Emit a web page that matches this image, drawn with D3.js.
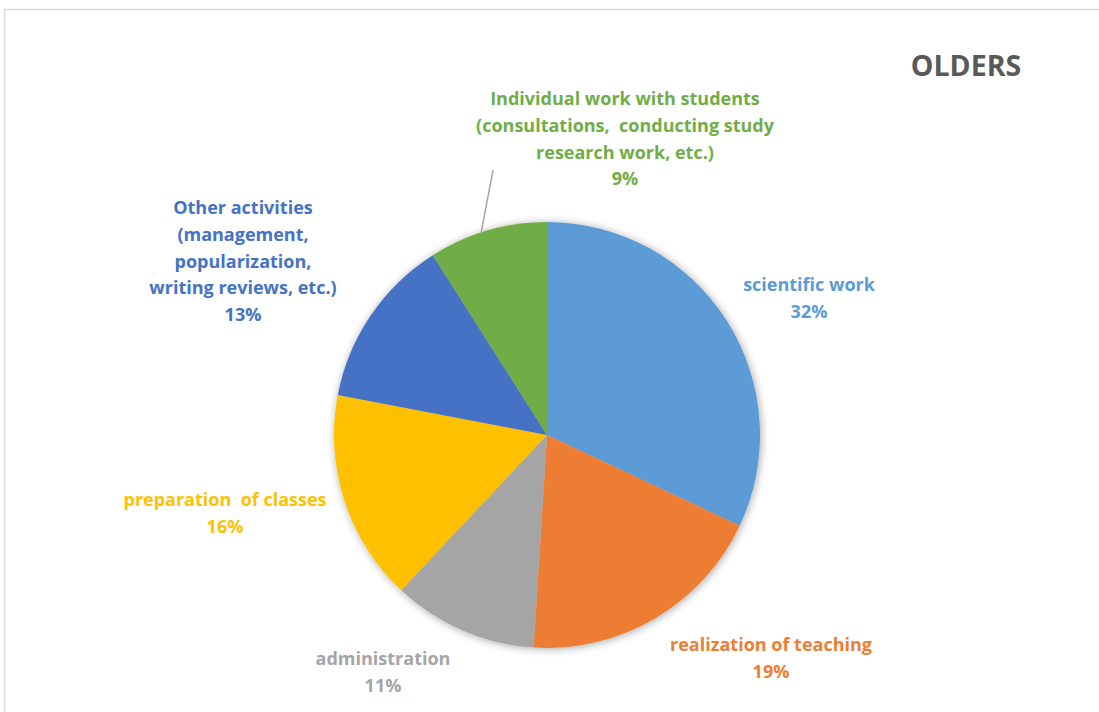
<!DOCTYPE html>
<html>
<head>
<meta charset="utf-8">
<script src="https://cdn.jsdelivr.net/npm/d3@7"></script>
<style>
  html, body { margin: 0; padding: 0; background: #fff; }
  svg { display: block; }
</style>
</head>
<body>
<svg id="chart" width="1099" height="712"></svg>
<script>
const categories = [
  "scientific work",
  "realization of teaching",
  "administration",
  "preparation of classes",
  "Other activities (management, popularization, writing reviews, etc.)",
  "Individual work with students (consultations, conducting study research work, etc.)"
];
const values = [32, 19, 11, 16, 13, 9];
const labelLines = [
  ["scientific work"],
  ["realization of teaching"],
  ["administration"],
  ["preparation  of classes"],
  ["Other activities", "(management,", "popularization,", "writing reviews, etc.)"],
  ["Individual work with students", "(consultations,  conducting study", "research work, etc.)"]
];
const colors = ["#5B9BD5", "#ED7D31", "#A5A5A5", "#FFC000", "#4472C4", "#70AD47"];
const title = "OLDERS";

const W = 1099, H = 712;
const cx = 547, cy = 435, R = 213;
const svg = d3.select("#chart");
const font = "'Open Sans', Lato, sans-serif";

// chart area border
svg.append("path")
  .attr("d", `M4.5,${H} L4.5,9.5 L${W},9.5`)
  .attr("fill", "none").attr("stroke", "#d9d9d9").attr("stroke-width", 1.5);

const defs = svg.append("defs");
const f = defs.append("filter").attr("id", "shadow")
  .attr("x", "-20%").attr("y", "-20%").attr("width", "140%").attr("height", "140%");
f.append("feGaussianBlur").attr("in", "SourceAlpha").attr("stdDeviation", 4);
f.append("feOffset").attr("dx", 1).attr("dy", 1).attr("result", "b");
f.append("feComponentTransfer").append("feFuncA").attr("type", "linear").attr("slope", 0.35);
const m = f.append("feMerge");
m.append("feMergeNode");
m.append("feMergeNode").attr("in", "SourceGraphic");

const pie = d3.pie().sort(null).value(d => d)(values);
const arc = d3.arc().innerRadius(0).outerRadius(R);

const g = svg.append("g").attr("transform", `translate(${cx},${cy})`);
g.append("g").attr("filter", "url(#shadow)")
  .selectAll("path").data(pie).join("path")
  .attr("d", arc)
  .attr("fill", (d, i) => colors[i]);

// label positions (label centre x, first line baseline y)
const labelPos = [
  [809, 291],
  [771, 651],
  [383, 665],
  [225, 506],
  [243, 214],
  [625, 105]
];
const lh = 26.8;

// leader line for the green slice
const ang = 342 * Math.PI / 180;
const edge = [cx + R * Math.sin(ang), cy - R * Math.cos(ang)];
svg.append("line")
  .attr("x1", 493).attr("y1", 170)
  .attr("x2", edge[0]).attr("y2", edge[1])
  .attr("stroke", "#a6a6a6").attr("stroke-width", 1.5);

labelLines.forEach((lines, i) => {
  const t = svg.append("text")
    .attr("text-anchor", "middle")
    .attr("font-family", font)
    .attr("font-weight", "bold")
    .attr("font-size", 18)
    .attr("fill", colors[i]);
  const all = lines.concat([values[i] + "%"]);
  all.forEach((s, k) => {
    t.append("tspan")
      .attr("x", labelPos[i][0])
      .attr("y", labelPos[i][1] + k * lh)
      .attr("xml:space", "preserve")
      .text(s);
  });
});

svg.append("text")
  .attr("x", 966).attr("y", 76)
  .attr("text-anchor", "middle")
  .attr("font-family", font)
  .attr("font-weight", "bold")
  .attr("font-size", 28.5)
  .attr("fill", "#595959")
  .text(title);
</script>
</body>
</html>
